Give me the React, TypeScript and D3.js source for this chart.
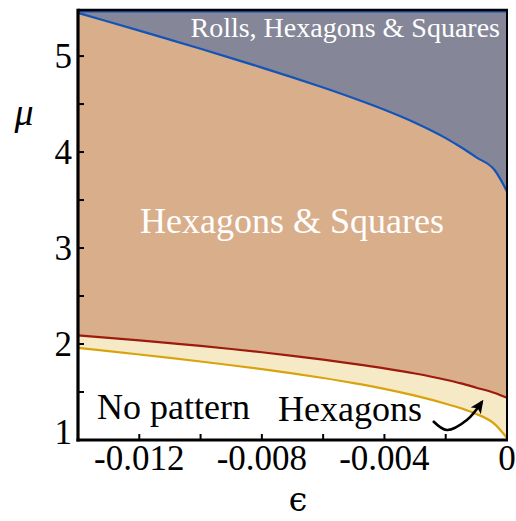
import React from "react";
import * as d3 from "d3";

const epsilon = [-0.014, -0.013, -0.012, -0.011, -0.010, -0.009, -0.008, -0.007, -0.006, -0.005, -0.004, -0.003, -0.002, -0.0015, -0.001, -0.0004, 0];
const muRolls = [5.45, 5.358, 5.265, 5.171, 5.076, 4.979, 4.88, 4.778, 4.672, 4.56, 4.44, 4.305, 4.145, 4.05, 3.945, 3.81, 3.59];
const muHexSq = [2.09, 2.064, 2.037, 2.009, 1.98, 1.948, 1.914, 1.877, 1.837, 1.794, 1.747, 1.693, 1.628, 1.59, 1.545, 1.49, 1.44];
const muHex = [1.96, 1.926, 1.891, 1.855, 1.818, 1.779, 1.738, 1.694, 1.646, 1.593, 1.533, 1.462, 1.378, 1.33, 1.272, 1.165, 1.02];

const xTicks = [-0.014, -0.012, -0.010, -0.008, -0.006, -0.004, -0.002, 0];
const xTickLabels = ["-0.012", "-0.008", "-0.004", "0"];
const xLabelValues = [-0.012, -0.008, -0.004, 0];
const yTicks = [1, 1.5, 2, 2.5, 3, 3.5, 4, 4.5, 5];
const yLabelValues = [1, 2, 3, 4, 5];
const yTickLabels = ["1", "2", "3", "4", "5"];

// annotation arrow (data coordinates)
const arrowEps = [-0.002415, -0.00196, -0.00131, -0.00082];
const arrowMu = [1.198, 1.104, 1.208, 1.396];

const W = 516, H = 521;
const x = d3.scaleLinear().domain([-0.014, 0]).range([78, 507]);
const y = d3.scaleLinear().domain([1, 5.48]).range([440, 10]);

const FONT = "'Liberation Serif', 'Times New Roman', serif";

export default function App() {
  const idx = epsilon.map((_, i) => i);
  const curve = d3.curveMonotoneX;
  const areaTop = d3.area<number>().x(i => x(epsilon[i])).y0(y(5.48)).y1(i => y(muRolls[i])).curve(curve);
  const areaMid = d3.area<number>().x(i => x(epsilon[i])).y0(i => y(muHexSq[i])).y1(i => y(muRolls[i])).curve(curve);
  const areaLow = d3.area<number>().x(i => x(epsilon[i])).y0(i => y(muHex[i])).y1(i => y(muHexSq[i])).curve(curve);
  const lineBlue = d3.line<number>().x(i => x(epsilon[i])).y(i => y(muRolls[i])).curve(curve);
  const lineRed = d3.line<number>().x(i => x(epsilon[i])).y(i => y(muHexSq[i])).curve(curve);
  const lineYellow = d3.line<number>().x(i => x(epsilon[i])).y(i => y(muHex[i])).curve(curve);
  const arrowIdx = arrowEps.map((_, i) => i);
  const arrowLine = d3.line<number>().x(i => x(arrowEps[i])).y(i => y(arrowMu[i])).curve(d3.curveCatmullRom);

  const x0 = x(-0.014), x1 = x(0), yTop = y(5.48), yBot = y(1);

  return (
    <svg width={W} height={H} style={{ position: "absolute", left: 0, top: 0 }}>
      <defs>
        <marker id="ah" viewBox="0 0 10 10" refX="8" refY="5" markerWidth="5.2" markerHeight="5.2" orient="auto" markerUnits="strokeWidth">
          <path d="M0,0.5 L10,5 L0,9.5 L2.5,5 Z" fill="#000" />
        </marker>
      </defs>
      <rect x={0} y={0} width={W} height={H} fill="#fff" />
      {/* regions */}
      <path d={areaTop(idx) || ""} fill="#858798" />
      <path d={areaMid(idx) || ""} fill="#d9ae8b" />
      <path d={areaLow(idx) || ""} fill="#f6eac6" />
      {/* boundary lines */}
      <line x1={x0} x2={x1} y1={yTop + 1.5} y2={yTop + 1.5} stroke="#1454b8" strokeWidth={2} />
      <path d={lineBlue(idx) || ""} fill="none" stroke="#1454b8" strokeWidth={2.2} />
      <path d={lineRed(idx) || ""} fill="none" stroke="#9e1a0c" strokeWidth={2.2} />
      <path d={lineYellow(idx) || ""} fill="none" stroke="#d9a30d" strokeWidth={2.2} />
      {/* frame */}
      <line x1={x0} x2={x1 + 1} y1={yTop} y2={yTop} stroke="#000" strokeWidth={2.5} />
      <line x1={x1} x2={x1} y1={yTop} y2={yBot} stroke="#000" strokeWidth={2} />
      <line x1={x0} x2={x0} y1={yTop - 1.2} y2={yBot + 1.5} stroke="#000" strokeWidth={3.2} />
      <line x1={x0 - 1.5} x2={x1 + 1} y1={yBot} y2={yBot} stroke="#000" strokeWidth={3.2} />
      {/* ticks */}
      {xTicks.map((t, i) => (
        <line key={"xt" + i} x1={x(t)} x2={x(t)} y1={yBot} y2={yBot - 6} stroke="#000" strokeWidth={2} />
      ))}
      {yTicks.map((t, i) => (
        <line key={"yt" + i} x1={x0} x2={x0 + 6} y1={y(t)} y2={y(t)} stroke="#000" strokeWidth={2} />
      ))}
      {xLabelValues.map((t, i) => (
        <text key={"xl" + i} x={x(t)} y={470} textAnchor="middle" fontFamily={FONT} fontSize={35} fill="#000">{xTickLabels[i]}</text>
      ))}
      {yLabelValues.map((t, i) => (
        <text key={"yl" + i} x={72} y={t === 1 ? 444 : y(t) + 12} textAnchor="end" fontFamily={FONT} fontSize={35} fill="#000">{yTickLabels[i]}</text>
      ))}
      {/* axis titles */}
      <text x={24} y={125} textAnchor="middle" fontFamily={FONT} fontStyle="italic" fontSize={38} fill="#000">μ</text>
      <text x={298} y={511} textAnchor="middle" fontFamily="'DejaVu Serif', serif" fontSize={33} fill="#000">ϵ</text>
      {/* region labels */}
      <text x={500} y={37} textAnchor="end" fontFamily={FONT} fontSize={28} fill="#fff">Rolls, Hexagons &amp; Squares</text>
      <text x={292} y={233} textAnchor="middle" fontFamily={FONT} fontSize={36} fill="#fff">Hexagons &amp; Squares</text>
      <text x={97} y={419} fontFamily={FONT} fontSize={36} fill="#000">No pattern</text>
      <text x={278} y={421} fontFamily={FONT} fontSize={36} fill="#000">Hexagons</text>
      <path d={arrowLine(arrowIdx) || ""} fill="none" stroke="#000" strokeWidth={2.6} markerEnd="url(#ah)" />
    </svg>
  );
}
